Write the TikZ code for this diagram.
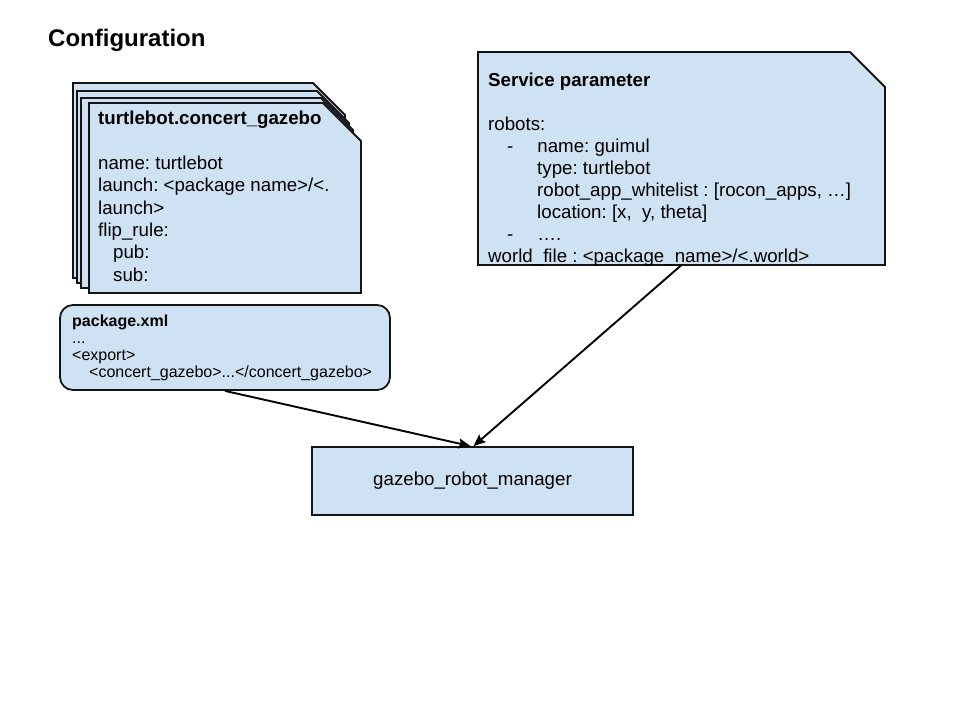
\documentclass[tikz,border=0pt]{standalone}
\usepackage{fontspec}
\setmainfont{Liberation Sans}
\usetikzlibrary{arrows.meta}
\frenchspacing
\definecolor{boxfill}{HTML}{CFE2F3}
\definecolor{boxline}{HTML}{141414}
\tikzset{
  shapeline/.style={draw=boxline, fill=boxfill, line width=1.8bp, line join=miter},
  invis/.style={inner sep=0pt, outer sep=0pt},
  cardtextstyle/.style={inner sep=0pt, anchor=base west, align=left, font=\frenchspacing\fontsize{18.7bp}{22.3bp}\selectfont},
  bigtext/.style={inner sep=0pt, anchor=base west, align=left, font=\frenchspacing\fontsize{18.7bp}{21.9bp}\selectfont},
  smalltext/.style={inner sep=0pt, anchor=base west, align=left, font=\frenchspacing\fontsize{16bp}{16.7bp}\selectfont},
  arr/.style={draw=black, line width=1.9bp, -{Stealth[length=12bp,width=10bp,inset=2bp]}},
}
\begin{document}
\begin{tikzpicture}[x=1bp, y=-1bp]
\useasboundingbox[fill=white] (0,0) rectangle (960,720);

% title
\node[inner sep=0pt, anchor=base west, font=\bfseries\fontsize{24bp}{28bp}\selectfont] (title) at (48,47) {Configuration};

% stacked cards
\draw[shapeline] (73,83) -- (313,83) -- (345,115) -- (345,278) -- (73,278) -- cycle;
\draw[shapeline] (77,91) -- (317,91) -- (349,123) -- (349,283) -- (77,283) -- cycle;
\draw[shapeline] (81,98) -- (321,98) -- (353,130) -- (353,288) -- (81,288) -- cycle;
\node[invis, minimum width=272bp, minimum height=190bp] (card) at (225,198) {};
\draw[shapeline] (card.north west) -- ([xshift=-38bp]card.north east) -- ([yshift=-38bp]card.north east) -- (card.south east) -- (card.south west) -- cycle;
\node[cardtextstyle] (cardtext) at (98,281) {\textbf{turtlebot.concert\_gazebo}\\
\\
name: turtlebot\\
launch: <package name>/<.\\
launch>\\
flip\_rule:\\
\hspace*{15bp}pub:\\
\hspace*{15bp}sub:};

% package.xml
\node[shapeline, rounded corners=13bp, minimum width=330bp, minimum height=85bp, inner sep=0pt] (pkg) at (225,347.5) {};
\node[smalltext] (pkgtext) at (72,377) {\textbf{package.xml}\\
...\\
<export>\\
\hspace*{17bp}<concert\_gazebo>...</concert\_gazebo>};

% service parameter
\node[invis, minimum width=407bp, minimum height=213bp] (svc) at (681.5,158.5) {};
\draw[shapeline] (svc.north west) -- ([xshift=-35bp]svc.north east) -- ([yshift=-35bp]svc.north east) -- (svc.south east) -- (svc.south west) -- cycle;
\node[bigtext] (svctext) at (488,262) {\textbf{Service parameter}\\
\\
robots:\\
\hspace*{19bp}-\hspace*{24bp}name: guimul\\
\hspace*{49bp}type: turtlebot\\
\hspace*{49bp}robot\_app\_whitelist : [rocon\_apps, …]\\
\hspace*{49bp}location: [x,\ \ y, theta]\\
\hspace*{19bp}-\hspace*{24bp}….\\
world\_file : <package\_name>/<.world>};

% manager
\node[shapeline, minimum width=321bp, minimum height=68bp, inner sep=0pt, font=\fontsize{18.7bp}{21.9bp}\selectfont] (mgr) at (472.5,481) {gazebo\_robot\_manager};

% arrows
\draw[arr] (pkg.south) -- ([xshift=-2bp]mgr.north);
\draw[arr] (svc.south) -- ([xshift=1bp]mgr.north);
\end{tikzpicture}
\end{document}
